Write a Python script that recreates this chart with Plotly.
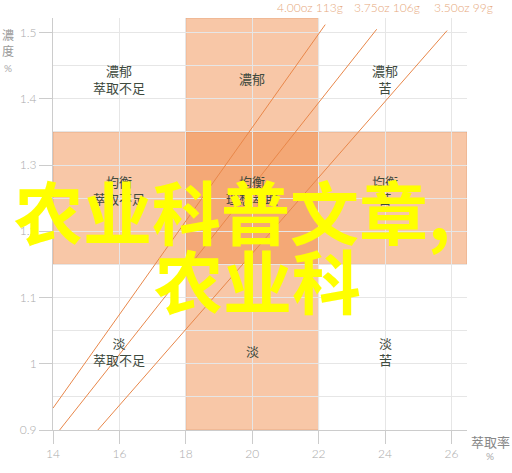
import plotly.graph_objects as go

# brew ratio lines (extraction % vs strength %)
ratio_names = ['4.00oz 113g', '3.75oz 106g', '3.50oz 99g']
ratio_x0 = [14.0, 14.2, 15.35]
ratio_y0 = [0.933, 0.9, 0.9]
ratio_x1 = [22.2, 23.75, 25.87]
ratio_y1 = [1.512, 1.505, 1.503]
ratio_label_x = [21.74, 24.06, 26.35]

# ideal zones
ey_band = [18, 22]
tds_band = [1.15, 1.35]

# zone labels
zone_x = [16, 20, 24, 16, 20, 24, 16, 20, 24]
zone_y = [1.43, 1.43, 1.43, 1.262, 1.262, 1.262, 1.02, 1.02, 1.02]
zone_text = ['濃郁<br>萃取不足', '濃郁', '濃郁<br>苦',
             '均衡<br>萃取不足', '均衡<br>理想萃取', '均衡<br>苦',
             '淡<br>萃取不足', '淡', '淡<br>苦']

x_ticks = [14, 16, 18, 20, 22, 24, 26]
y_ticks = [0.9, 1.0, 1.1, 1.2, 1.3, 1.4, 1.5]
y_tick_text = ['0.9', '1', '1.1', '1.2', '1.3', '1.4', '1.5']

overlay_lines = ['农业科普文章,', '农业科']

band_fill = 'rgba(240,130,60,0.45)'
band_edge = 'rgba(200,120,70,0.35)'

fig = go.Figure()

for i, name in enumerate(ratio_names):
    fig.add_trace(go.Scatter(
        x=[ratio_x0[i], ratio_x1[i]], y=[ratio_y0[i], ratio_y1[i]],
        mode='lines', line=dict(color='#e8874a', width=1),
        name=name, showlegend=False, hoverinfo='skip'))

fig.add_shape(type='rect', xref='x', yref='y',
              x0=ey_band[0], x1=ey_band[1], y0=0.9, y1=1.522,
              fillcolor=band_fill, line=dict(color=band_edge, width=1), layer='below')
fig.add_shape(type='rect', xref='x', yref='y',
              x0=14, x1=26.47, y0=tds_band[0], y1=tds_band[1],
              fillcolor=band_fill, line=dict(color=band_edge, width=1), layer='below')

for x, y, t in zip(zone_x, zone_y, zone_text):
    fig.add_annotation(x=x, y=y, text=t, showarrow=False,
                       font=dict(size=13, color='#3e4a3e', family='Noto Sans CJK TC'))

for x, t in zip(ratio_label_x, ratio_names):
    fig.add_annotation(x=x, xref='x', xanchor='center', y=1, yref='paper', yshift=11,
                       yanchor='middle', text=t, showarrow=False,
                       font=dict(size=12, color='#e6a87c', family='Lato', weight=300))


def pixel_note(px, py, text, font):
    # place a text by its centre in page pixels (plot area is 53..467 x 18..432)
    fig.add_annotation(x=0, xref='paper', xanchor='center', xshift=px - 53,
                       y=1, yref='paper', yanchor='middle', yshift=18 - py,
                       text=text, showarrow=False, font=font)


# axis titles
pixel_note(8, 42, '濃<br>度', dict(size=12, color='#999999', family='Noto Sans CJK TC'))
pixel_note(8, 68, '%', dict(size=10, color='#aaaaaa', family='Lato'))
pixel_note(490, 441, '萃取率', dict(size=13, color='#888888', family='Noto Sans CJK TC'))
pixel_note(490, 456, '%', dict(size=10, color='#aaaaaa', family='Lato'))

# overlay text
pixel_note(232, 210, overlay_lines[0],
           dict(size=69, color='#ffff00', family='Noto Sans CJK SC', weight=700))
pixel_note(257, 279, overlay_lines[1],
           dict(size=69, color='#ffff00', family='Noto Sans CJK SC', weight=700))

axis_common = dict(showgrid=True, gridcolor='#e6e6e6', gridwidth=1,
                   showline=True, linecolor='#cccccc', linewidth=1,
                   ticks='outside', ticklen=13, tickcolor='#cccccc',
                   tickfont=dict(size=12, color='#aaaaaa', family='Lato', weight=300),
                   zeroline=False, fixedrange=True)

fig.update_xaxes(range=[14, 26.47], tickvals=x_ticks, **axis_common)
fig.update_yaxes(range=[0.9, 1.522], tickvals=y_ticks, ticktext=y_tick_text,
                 minor=dict(dtick=0.05, showgrid=True, gridcolor='#e6e6e6', ticks=''),
                 **axis_common)

fig.update_layout(width=512, height=473,
                  margin=dict(l=53, r=45, t=18, b=41),
                  plot_bgcolor='white', paper_bgcolor='white',
                  showlegend=False)

fig.write_html('out.html', config={'displayModeBar': False},
               post_script="document.body.style.margin='0';")
